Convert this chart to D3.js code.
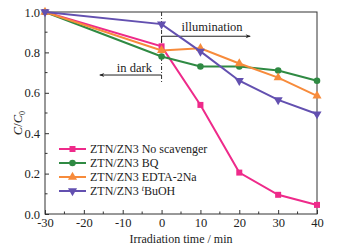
<!DOCTYPE html>
<html>
<head>
<meta charset="utf-8">
<script src="https://cdn.jsdelivr.net/npm/d3@7"></script>
<style>
  body { margin: 0; background: #fff; }
</style>
</head>
<body>
<div id="chart"></div>
<script>
const times = [-30, 0, 10, 20, 30, 40];
const noScavenger = [1.0, 0.83, 0.54, 0.205, 0.095, 0.045];
const bq = [1.0, 0.78, 0.73, 0.73, 0.71, 0.66];
const edta = [1.0, 0.81, 0.82, 0.745, 0.675, 0.585];
const tbuoh = [1.0, 0.94, 0.805, 0.66, 0.565, 0.495];
const seriesNames = ['ZTN/ZN3 No scavenger', 'ZTN/ZN3 BQ', 'ZTN/ZN3 EDTA-2Na', 'ZTN/ZN3 tBuOH'];
const xTicks = [-30, -20, -10, 0, 10, 20, 30, 40];
const yTicks = [0.0, 0.2, 0.4, 0.6, 0.8, 1.0];

const width = 341, height = 249;
const margin = { left: 45, right: 24, top: 12, bottom: 35 };
const serif = '"Liberation Serif", "DejaVu Serif", "Times New Roman", serif';

const series = [
  { name: seriesNames[0], values: noScavenger, color: '#ee2a8a', symbol: d3.symbolSquare, size: 36, rot: 0 },
  { name: seriesNames[1], values: bq, color: '#2f8a43', symbol: d3.symbolCircle, size: 34, rot: 0 },
  { name: seriesNames[2], values: edta, color: '#f78b3b', symbol: d3.symbolTriangle, size: 36, rot: 0 },
  { name: seriesNames[3], values: tbuoh, color: '#6350b0', symbol: d3.symbolTriangle, size: 36, rot: 180 }
];

const svg = d3.select('#chart').append('svg')
  .attr('width', width)
  .attr('height', height)
  .attr('font-family', serif)
  .style('font-family', serif);

const x = d3.scaleLinear()
  .domain([-30, 40])
  .range([margin.left, width - margin.right]);
const y = d3.scaleLinear()
  .domain([0, 1])
  .range([height - margin.bottom, margin.top]);

// frame
svg.append('rect')
  .attr('x', x(-30))
  .attr('y', y(1))
  .attr('width', x(40) - x(-30))
  .attr('height', y(0) - y(1))
  .attr('fill', 'none')
  .attr('stroke', '#333')
  .attr('stroke-width', 1);

// axes (ticks inward)
const xAxis = d3.axisBottom(x).tickValues(xTicks).tickFormat(d => d).tickSizeInner(-4).tickSizeOuter(0).tickPadding(5);
const gx = svg.append('g')
  .attr('transform', `translate(0, ${y(0)})`)
  .call(xAxis)
  .attr('font-family', serif);
gx.select('.domain').remove();
gx.selectAll('text').attr('font-size', '12.5px').attr('fill', '#222').attr('dy', '0.6em');
gx.selectAll('line').attr('stroke', '#333');
svg.append('g')
  .attr('transform', `translate(0, ${y(0)})`)
  .selectAll('line')
  .data(xTicks.slice(0, -1).map(d => d + 5))
  .join('line')
    .attr('x1', d => x(d))
    .attr('x2', d => x(d))
    .attr('y1', 0)
    .attr('y2', -2.5)
    .attr('stroke', '#333');

const yAxis = d3.axisLeft(y).tickValues(yTicks).tickFormat(d3.format('.1f')).tickSizeInner(-4).tickSizeOuter(0).tickPadding(5);
const gy = svg.append('g')
  .attr('transform', `translate(${x(-30)}, 0)`)
  .call(yAxis)
  .attr('font-family', serif);
gy.select('.domain').remove();
gy.selectAll('text').attr('font-size', '12.5px').attr('fill', '#222');
gy.selectAll('line').attr('stroke', '#333');
svg.append('g')
  .attr('transform', `translate(${x(-30)}, 0)`)
  .selectAll('line')
  .data(yTicks.slice(0, -1).map(d => d + 0.1))
  .join('line')
    .attr('x1', 0)
    .attr('x2', 2.5)
    .attr('y1', d => y(d))
    .attr('y2', d => y(d))
    .attr('stroke', '#333');

// axis titles
svg.append('text')
  .attr('x', (x(-30) + x(40)) / 2)
  .attr('y', height - 6)
  .attr('text-anchor', 'middle')
  .attr('font-size', '12px')
  .attr('fill', '#222')
  .text('Irradiation time / min');

const yTitle = svg.append('text')
  .attr('transform', `translate(22, ${y(0.45)}) rotate(-90)`)
  .attr('text-anchor', 'middle')
  .attr('font-size', '12.5px')
  .attr('fill', '#222');
yTitle.append('tspan').attr('font-style', 'italic').text('C');
yTitle.append('tspan').text('/');
yTitle.append('tspan').attr('font-style', 'italic').text('C');
yTitle.append('tspan').attr('font-size', '8px').attr('dy', 3).text('0');

// divider at t = 0
svg.append('line')
  .attr('x1', x(0))
  .attr('x2', x(0))
  .attr('y1', y(1))
  .attr('y2', y(0.65))
  .attr('stroke', '#333')
  .attr('stroke-width', 1)
  .attr('stroke-dasharray', '4,2,1,2');

// arrows
svg.append('defs').append('marker')
  .attr('id', 'arrow')
  .attr('viewBox', '0 0 10 10')
  .attr('refX', 9)
  .attr('refY', 5)
  .attr('markerWidth', 7)
  .attr('markerHeight', 5)
  .attr('markerUnits', 'userSpaceOnUse')
  .attr('orient', 'auto')
  .append('path')
    .attr('d', 'M0,1 L10,5 L0,9 L3,5 Z')
    .attr('fill', '#222');

svg.append('path')
  .attr('d', `M${x(0)},${y(0.85)} L${x(0)},${y(0.88)} L${x(22.8)},${y(0.88)}`)
  .attr('fill', 'none')
  .attr('stroke', '#222')
  .attr('stroke-width', 1)
  .attr('marker-end', 'url(#arrow)');
svg.append('text')
  .attr('x', x(13))
  .attr('y', y(0.905))
  .attr('text-anchor', 'middle')
  .attr('font-size', '12.5px')
  .attr('fill', '#222')
  .text('illumination');

svg.append('path')
  .attr('d', `M${x(0)},${y(0.688)} L${x(-15.9)},${y(0.688)}`)
  .attr('fill', 'none')
  .attr('stroke', '#222')
  .attr('stroke-width', 1)
  .attr('marker-end', 'url(#arrow)');
svg.append('text')
  .attr('x', x(-7))
  .attr('y', y(0.705))
  .attr('text-anchor', 'middle')
  .attr('font-size', '12.5px')
  .attr('fill', '#222')
  .text('in dark');

// lines and markers
const line = d3.line()
  .x(d => x(d[0]))
  .y(d => y(d[1]));

series.forEach(s => {
  const pts = times.map((t, i) => [t, s.values[i]]);
  svg.append('path')
    .datum(pts)
    .attr('d', line)
    .attr('fill', 'none')
    .attr('stroke', s.color)
    .attr('stroke-width', 2);
  svg.append('g')
    .selectAll('path')
    .data(pts)
    .join('path')
      .attr('d', d3.symbol(s.symbol, s.size))
      .attr('transform', d => `translate(${x(d[0])}, ${y(d[1])}) rotate(${s.rot})`)
      .attr('fill', s.color);
});

// legend
const legend = svg.append('g')
  .attr('transform', `translate(59, 149)`);
series.forEach((s, i) => {
  const g = legend.append('g').attr('transform', `translate(0, ${i * 14})`);
  g.append('line')
    .attr('x1', 0).attr('x2', 27)
    .attr('y1', 0).attr('y2', 0)
    .attr('stroke', s.color)
    .attr('stroke-width', 2);
  g.append('path')
    .attr('d', d3.symbol(s.symbol, s.size))
    .attr('transform', `translate(13.5, 0) rotate(${s.rot})`)
    .attr('fill', s.color);
  const t = g.append('text')
    .attr('x', 31)
    .attr('y', 4)
    .attr('font-size', '12px')
    .attr('fill', '#222');
  if (i === 3) {
    t.append('tspan').text('ZTN/ZN3 ');
    t.append('tspan').attr('font-size', '8px').attr('font-style', 'italic').attr('dy', -4).text('t');
    t.append('tspan').attr('dy', 4).text('BuOH');
  } else {
    t.text(s.name);
  }
});
</script>
</body>
</html>
